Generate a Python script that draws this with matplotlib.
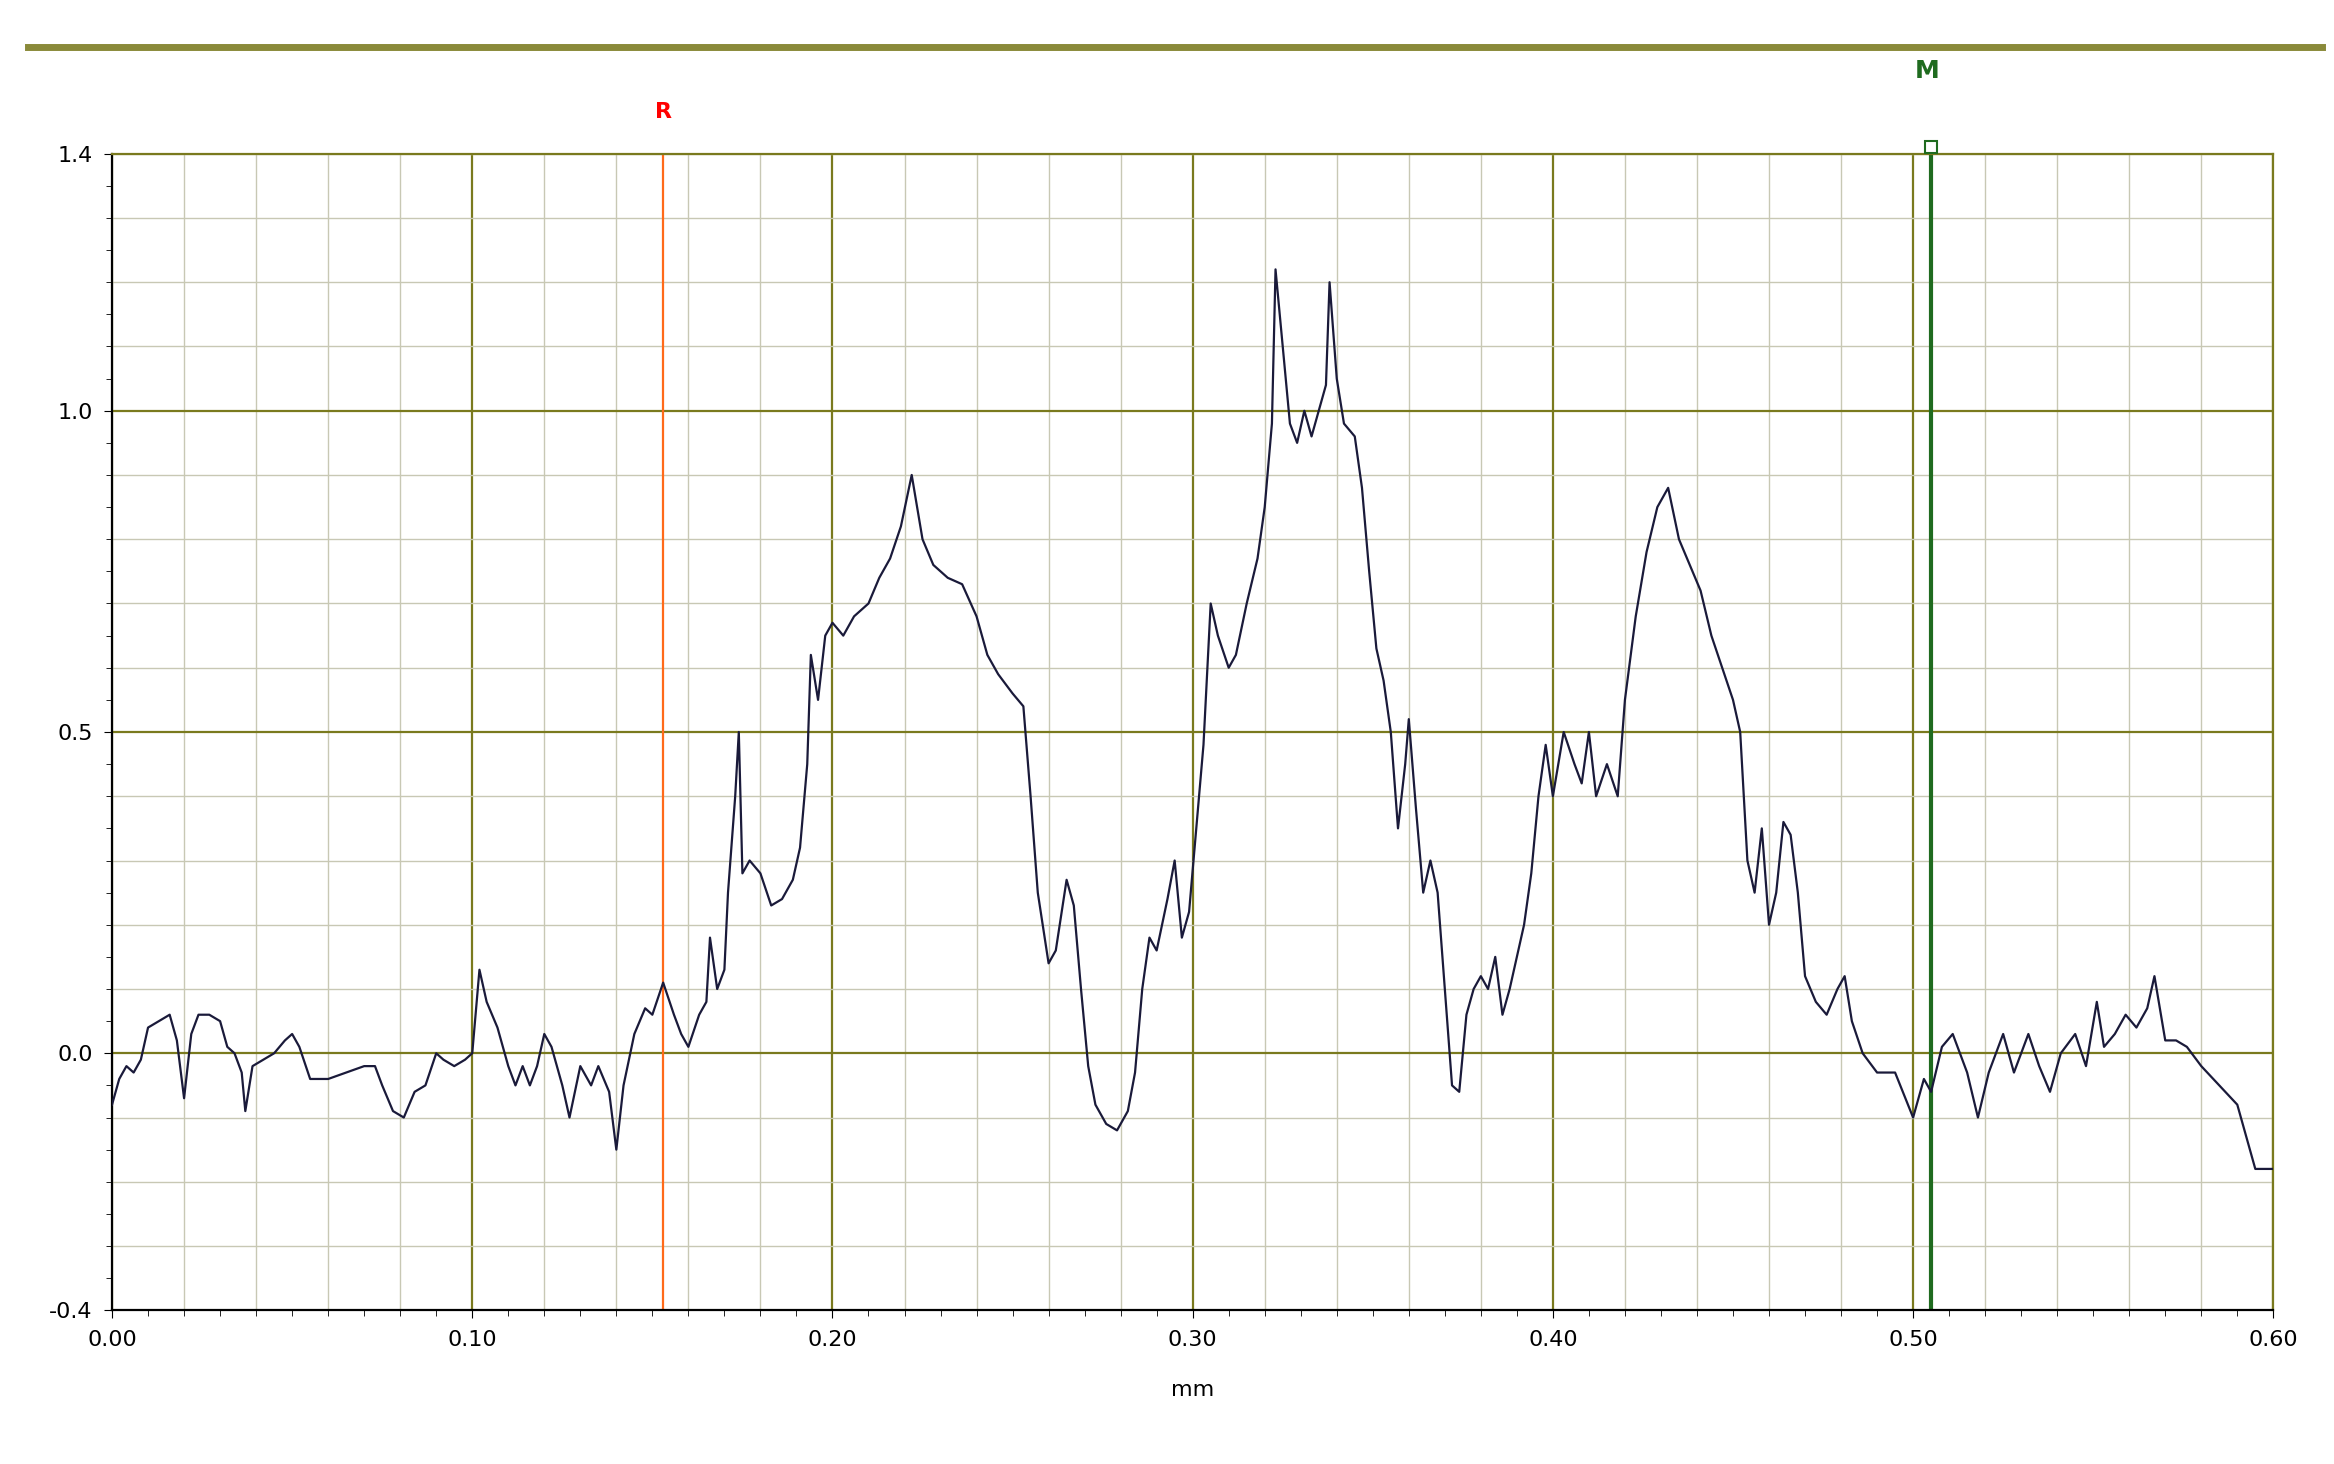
import matplotlib
matplotlib.use('Agg')
import matplotlib.pyplot as plt
from matplotlib.lines import Line2D

# profile trace (mm, value)
x_mm = [0.000,0.002,0.004,0.006,0.008,0.010,0.013,0.016,0.018,0.020,0.022,0.024,0.027,0.030,0.032,0.034,0.036,0.037,0.039,0.042,
        0.045,0.048,0.050,0.052,0.055,0.060,0.065,0.070,0.073,0.075,0.078,0.081,0.084,0.087,0.090,0.092,0.095,0.098,0.100,0.102,
        0.104,0.107,0.110,0.112,0.114,0.116,0.118,0.120,0.122,0.125,0.127,0.130,0.133,0.135,0.138,0.140,0.142,0.145,0.148,0.150,
        0.153,0.156,0.158,0.160,0.163,0.165,0.166,0.168,0.170,0.171,0.173,0.174,0.175,0.177,0.180,0.183,0.186,0.189,0.191,0.193,
        0.194,0.196,0.198,0.200,0.203,0.206,0.210,0.213,0.216,0.219,0.222,0.225,0.228,0.232,0.236,0.240,0.243,0.246,0.250,0.253,
        0.255,0.257,0.260,0.262,0.265,0.267,0.269,0.271,0.273,0.276,0.279,0.282,0.284,0.286,0.288,0.290,0.293,0.295,0.297,0.299,
        0.301,0.303,0.305,0.307,0.310,0.312,0.315,0.318,0.320,0.322,0.323,0.325,0.327,0.329,0.331,0.333,0.335,0.337,0.338,0.340,
        0.342,0.345,0.347,0.349,0.351,0.353,0.355,0.357,0.359,0.360,0.362,0.364,0.366,0.368,0.370,0.372,0.374,0.376,0.378,0.380,
        0.382,0.384,0.386,0.388,0.390,0.392,0.394,0.396,0.398,0.400,0.403,0.406,0.408,0.410,0.412,0.415,0.418,0.420,0.423,0.426,
        0.429,0.432,0.435,0.438,0.441,0.444,0.447,0.450,0.452,0.454,0.456,0.458,0.460,0.462,0.464,0.466,0.468,0.470,0.473,0.476,
        0.479,0.481,0.483,0.486,0.490,0.495,0.500,0.503,0.505,0.508,0.511,0.515,0.518,0.521,0.525,0.528,0.532,0.535,0.538,0.541,
        0.545,0.548,0.551,0.553,0.556,0.559,0.562,0.565,0.567,0.570,0.573,0.576,0.580,0.585,0.590,0.595,0.600]
profile = [-0.08,-0.04,-0.02,-0.03,-0.01,0.04,0.05,0.06,0.02,-0.07,0.03,0.06,0.06,0.05,0.01,0.00,-0.03,-0.09,-0.02,-0.01,
           0.00,0.02,0.03,0.01,-0.04,-0.04,-0.03,-0.02,-0.02,-0.05,-0.09,-0.10,-0.06,-0.05,0.00,-0.01,-0.02,-0.01,0.00,0.13,
           0.08,0.04,-0.02,-0.05,-0.02,-0.05,-0.02,0.03,0.01,-0.05,-0.10,-0.02,-0.05,-0.02,-0.06,-0.15,-0.05,0.03,0.07,0.06,
           0.11,0.06,0.03,0.01,0.06,0.08,0.18,0.10,0.13,0.25,0.40,0.50,0.28,0.30,0.28,0.23,0.24,0.27,0.32,0.45,
           0.62,0.55,0.65,0.67,0.65,0.68,0.70,0.74,0.77,0.82,0.90,0.80,0.76,0.74,0.73,0.68,0.62,0.59,0.56,0.54,
           0.40,0.25,0.14,0.16,0.27,0.23,0.10,-0.02,-0.08,-0.11,-0.12,-0.09,-0.03,0.10,0.18,0.16,0.24,0.30,0.18,0.22,
           0.35,0.48,0.70,0.65,0.60,0.62,0.70,0.77,0.85,0.98,1.22,1.10,0.98,0.95,1.00,0.96,1.00,1.04,1.20,1.05,
           0.98,0.96,0.88,0.75,0.63,0.58,0.50,0.35,0.45,0.52,0.38,0.25,0.30,0.25,0.10,-0.05,-0.06,0.06,0.10,0.12,
           0.10,0.15,0.06,0.10,0.15,0.20,0.28,0.40,0.48,0.40,0.50,0.45,0.42,0.50,0.40,0.45,0.40,0.55,0.68,0.78,
           0.85,0.88,0.80,0.76,0.72,0.65,0.60,0.55,0.50,0.30,0.25,0.35,0.20,0.25,0.36,0.34,0.25,0.12,0.08,0.06,
           0.10,0.12,0.05,0.00,-0.03,-0.03,-0.10,-0.04,-0.06,0.01,0.03,-0.03,-0.10,-0.03,0.03,-0.03,0.03,-0.02,-0.06,0.00,
           0.03,-0.02,0.08,0.01,0.03,0.06,0.04,0.07,0.12,0.02,0.02,0.01,-0.02,-0.05,-0.08,-0.18,-0.18]

r_pos = 0.153
m_pos = 0.505
y_ticks = [-0.4, 0.0, 0.5, 1.0, 1.4]
x_ticks = [0.0, 0.1, 0.2, 0.3, 0.4, 0.5, 0.6]

olive = '#7a7a1e'
fig = plt.figure(figsize=(23.34, 14.64), dpi=100)
ax = fig.add_axes([0.048, 0.105, 0.926, 0.79])

# grid
for gx in [i * 0.02 for i in range(31)]:
    major = abs(gx * 10 - round(gx * 10)) < 1e-6
    ax.axvline(gx, color=olive if major else '#c8c8b4', lw=1.6 if major else 1.0, zorder=1)
for gy in [-0.4 + i * 0.1 for i in range(19)]:
    major = any(abs(gy - v) < 1e-6 for v in [0.0, 0.5, 1.0])
    ax.axhline(gy, color=olive if major else '#c8c8b4', lw=1.6 if major else 1.0, zorder=1)

ax.plot(x_mm, profile, color='#1a1a3a', lw=1.6, zorder=3)

ax.axvline(r_pos, color='#ff6a1a', lw=1.6, zorder=2)
ax.axvline(m_pos, color='#1f6b1f', lw=3, zorder=2)
ax.plot([m_pos], [1.41], marker='s', ms=9, mfc='white', mec='#1f6b1f', mew=1.5, clip_on=False, zorder=4)
ax.text(r_pos, 1.465, 'R', color='red', ha='center', va='center', fontsize=16, fontweight='bold')
ax.text(m_pos - 0.001, 1.528, 'M', color='#1f6b1f', ha='center', va='center', fontsize=18, fontweight='bold')

ax.set_xlim(0, 0.6)
ax.set_ylim(-0.4, 1.4)
ax.set_xticks(x_ticks)
ax.set_xticklabels(['%.2f' % v for v in x_ticks])
ax.set_yticks(y_ticks)
ax.set_yticklabels(['%.1f' % v for v in y_ticks])
ax.set_xticks([i * 0.01 for i in range(61)], minor=True)
ax.set_yticks([-0.4 + i * 0.05 for i in range(37)], minor=True)
ax.tick_params(labelsize=16, length=6, color='black', pad=8)
ax.tick_params(which='minor', length=4)
for s in ax.spines.values():
    s.set_color(olive)
    s.set_linewidth(1.6)
ax.spines['left'].set_color('black')
ax.spines['bottom'].set_color('black')
ax.set_xlabel('mm', fontsize=16, labelpad=22)

fig.add_artist(Line2D([0.012, 0.995], [0.968, 0.968], color='#8a8a3a', lw=5))

fig.savefig('out.png', dpi=100)
